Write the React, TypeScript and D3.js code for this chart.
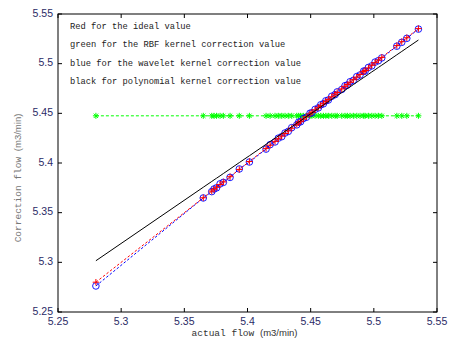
import React from 'react';
import * as d3 from 'd3';

const MARGIN = { top: 14, right: 14, bottom: 27, left: 58 };

// actual flow (x), also the ideal value (red, y = x)
const actual = [5.2800, 5.3650, 5.3717, 5.3735, 5.3755, 5.3783, 5.3809, 5.3862, 5.3935, 5.4015,
  5.4147, 5.4179, 5.4218, 5.4244, 5.4271, 5.4297, 5.4323, 5.4350, 5.4390, 5.4405,
  5.4420, 5.4442, 5.4465, 5.4495, 5.4510, 5.4535, 5.4561, 5.4580, 5.4601, 5.4620,
  5.4640, 5.4667, 5.4693, 5.4710, 5.4746, 5.4772, 5.4790, 5.4812, 5.4838, 5.4865,
  5.4891, 5.4920, 5.4931, 5.4957, 5.4984, 5.5010, 5.5036, 5.5063, 5.5182, 5.5221,
  5.5261, 5.5353];
const ideal = actual;
// RBF kernel correction
const rbf = [5.4475, 5.4475, 5.4475, 5.4475, 5.4475, 5.4475, 5.4475, 5.4475, 5.4475, 5.4475,
  5.4475, 5.4475, 5.4475, 5.4475, 5.4475, 5.4475, 5.4475, 5.4475, 5.4475, 5.4475,
  5.4475, 5.4475, 5.4475, 5.4475, 5.4475, 5.4475, 5.4475, 5.4475, 5.4475, 5.4475,
  5.4475, 5.4475, 5.4475, 5.4475, 5.4475, 5.4475, 5.4475, 5.4475, 5.4475, 5.4475,
  5.4475, 5.4475, 5.4475, 5.4475, 5.4475, 5.4475, 5.4475, 5.4475, 5.4475, 5.4475,
  5.4475, 5.4475];
// wavelet kernel correction
const wavelet = [5.2762, 5.3648, 5.3712, 5.3738, 5.3750, 5.3790, 5.3805, 5.3855, 5.3940, 5.4010,
  5.4140, 5.4185, 5.4212, 5.4250, 5.4265, 5.4302, 5.4318, 5.4356, 5.4384, 5.4411,
  5.4415, 5.4448, 5.4460, 5.4501, 5.4505, 5.4540, 5.4555, 5.4586, 5.4596, 5.4626,
  5.4634, 5.4672, 5.4688, 5.4716, 5.4740, 5.4778, 5.4785, 5.4818, 5.4832, 5.4870,
  5.4886, 5.4926, 5.4925, 5.4962, 5.4978, 5.5016, 5.5030, 5.5058, 5.5176, 5.5215,
  5.5255, 5.5348];
// polynomial kernel correction
const poly = [5.3016, 5.3756, 5.3814, 5.3830, 5.3847, 5.3871, 5.3894, 5.3940, 5.4004, 5.4073,
  5.4188, 5.4216, 5.4250, 5.4273, 5.4296, 5.4319, 5.4341, 5.4365, 5.4400, 5.4413,
  5.4426, 5.4445, 5.4465, 5.4491, 5.4504, 5.4526, 5.4548, 5.4565, 5.4583, 5.4600,
  5.4617, 5.4641, 5.4663, 5.4678, 5.4709, 5.4732, 5.4748, 5.4767, 5.4789, 5.4813,
  5.4836, 5.4861, 5.4870, 5.4893, 5.4917, 5.4939, 5.4962, 5.4985, 5.5089, 5.5123,
  5.5158, 5.5238];

const ticks = [5.25, 5.3, 5.35, 5.4, 5.45, 5.5, 5.55];
const legendLines = [
  'Red for the ideal value',
  'green for the RBF kernel correction value',
  'blue for the wavelet kernel correction value',
  'black for polynomial kernel correction value',
];

const MONO = '"Liberation Mono", "DejaVu Sans Mono", monospace';
const SANS = '"Liberation Sans", Arial, sans-serif';
const TICK_COLOR = '#2b2b66';

const App = () => {
  const width = 451;
  const height = 339;
  const boundsWidth = width - MARGIN.left - MARGIN.right;
  const boundsHeight = height - MARGIN.top - MARGIN.bottom;

  const xScale = d3.scaleLinear().domain([5.25, 5.55]).range([0, boundsWidth]);
  const yScale = d3.scaleLinear().domain([5.25, 5.55]).range([boundsHeight, 0]);

  const pts = (ys: number[]) => actual.map((x, i) => [xScale(x), yScale(ys[i])] as [number, number]);
  const line = d3.line();

  const greenPts = pts(rbf);
  const bluePts = pts(wavelet);
  const redPts = pts(ideal);
  const blackPts = pts(poly);

  const star = (x: number, y: number, k: number) => {
    const r = 3;
    const d = r * 0.72;
    return (
      <path key={k} d={`M${x - r},${y}H${x + r}M${x},${y - r}V${y + r}M${x - d},${y - d}L${x + d},${y + d}M${x - d},${y + d}L${x + d},${y - d}`}
        stroke="#00ff00" strokeWidth={1} fill="none" />
    );
  };

  return (
    <svg width={width} height={height} style={{ position: 'absolute', left: 0, top: 0, background: '#fff' }}>
      <g transform={`translate(${MARGIN.left},${MARGIN.top})`}>
        {/* series: green, blue, red, black */}
        <path d={line(greenPts) ?? ''} stroke="#00ff00" strokeWidth={1} fill="none" strokeDasharray="3,2" />
        {greenPts.map(([x, y], i) => star(x, y, i))}

        <path d={line(bluePts) ?? ''} stroke="#0000ff" strokeWidth={1} fill="none" strokeDasharray="2.5,2" />
        {bluePts.map(([x, y], i) => (
          <circle key={i} cx={x} cy={y} r={3.3} stroke="#0000ff" strokeWidth={0.9} fill="none" />
        ))}

        <path d={line(redPts) ?? ''} stroke="#ff0000" strokeWidth={1} fill="none" strokeDasharray="2.5,2" />
        {redPts.map(([x, y], i) => (
          <path key={i} d={`M${x - 3.2},${y}H${x + 3.2}M${x},${y - 3.2}V${y + 3.2}`} stroke="#ff0000" strokeWidth={1} />
        ))}

        <path d={line(blackPts) ?? ''} stroke="#000" strokeWidth={1} fill="none" />

        {/* box and inward ticks */}
        <rect x={0} y={0} width={boundsWidth} height={boundsHeight} fill="none" stroke="#000" strokeWidth={1} />
        {ticks.map((t, i) => (
          <g key={i}>
            <line x1={xScale(t)} x2={xScale(t)} y1={boundsHeight} y2={boundsHeight - 4} stroke="#000" />
            <line x1={xScale(t)} x2={xScale(t)} y1={0} y2={4} stroke="#000" />
            <line x1={0} x2={4} y1={yScale(t)} y2={yScale(t)} stroke="#000" />
            <line x1={boundsWidth} x2={boundsWidth - 4} y1={yScale(t)} y2={yScale(t)} stroke="#000" />
            <text x={xScale(t)} y={boundsHeight + 13} textAnchor="middle" fontSize={10.5} fontFamily={SANS} fill={TICK_COLOR}>
              {t.toString()}
            </text>
            <text x={-5} y={yScale(t)} textAnchor="end" dominantBaseline="middle" fontSize={10.5} fontFamily={SANS} fill={TICK_COLOR}>
              {t.toString()}
            </text>
          </g>
        ))}

        {/* legend text */}
        {legendLines.map((s, i) => (
          <text key={i} x={12} y={15 + i * 18.4} fontSize={8.75} fontFamily={MONO} fill="#222">
            {s}
          </text>
        ))}
      </g>

      {/* axis labels */}
      <text x={MARGIN.left + boundsWidth / 2 - 3} y={336} textAnchor="middle" fontSize={9.5} fill="#333">
        <tspan fontFamily={MONO}>actual flow </tspan>
        <tspan fontFamily={SANS}>(m3/min)</tspan>
      </text>
      <text transform={`translate(21,178) rotate(-90)`} textAnchor="middle" fontSize={9.5} fill="#777">
        <tspan fontFamily={MONO}>Correction flow </tspan>
        <tspan fontFamily={SANS}>(m3/min)</tspan>
      </text>
    </svg>
  );
};

export default App;
